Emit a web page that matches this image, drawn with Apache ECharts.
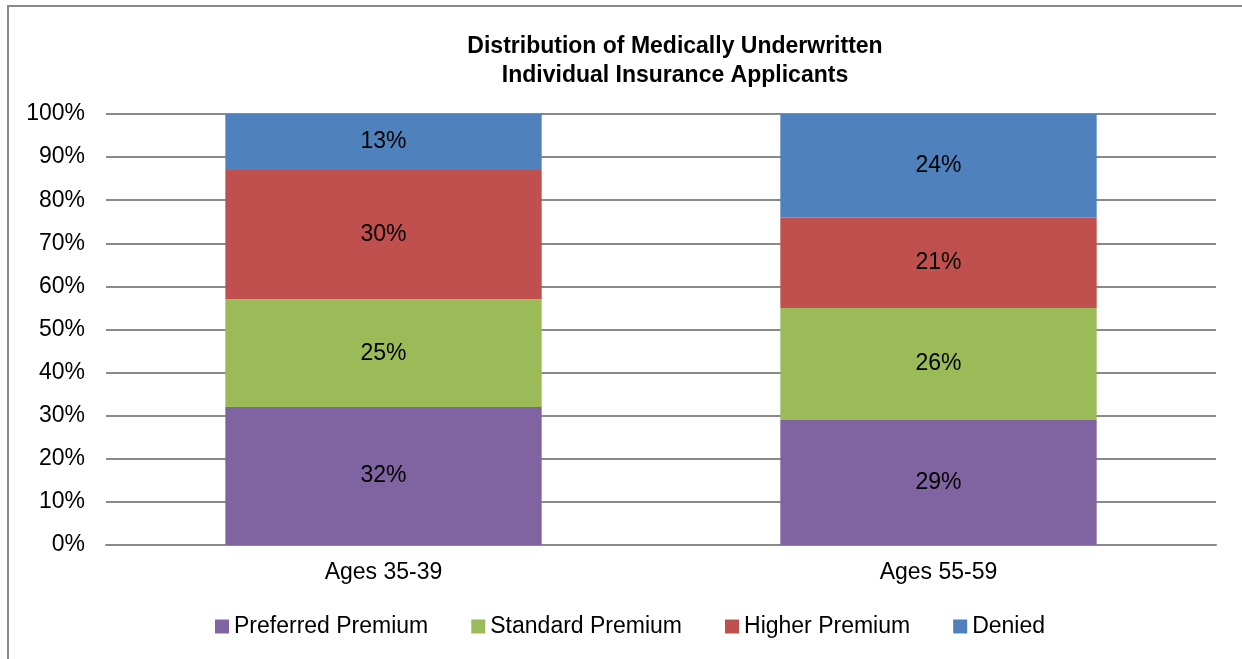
<!DOCTYPE html>
<html><head><meta charset="utf-8">
<script src="https://cdn.jsdelivr.net/npm/echarts@6/dist/echarts.min.js"></script>
<style>html,body{margin:0;padding:0;background:#fff}#c{width:1242px;height:659px}</style>
</head><body><div id="c"></div>
<script>
const categories = ['Ages 35-39', 'Ages 55-59'];
const preferred = [32, 29];
const standard = [25, 26];
const higher = [30, 21];
const denied = [13, 24];
const yTicks = [0, 10, 20, 30, 40, 50, 60, 70, 80, 90, 100];

const font = 'Liberation Sans, Arial, sans-serif';
const chart = echarts.init(document.getElementById('c'), null, {renderer: 'canvas'});
function mk(name, data, color) {
  return {
    name, type: 'bar', stack: 'a', data, barWidth: '57%',
    itemStyle: {color},
    label: {show: true, position: 'inside', formatter: p => p.value + '%', color: '#000', fontSize: 23, fontFamily: font}
  };
}
chart.setOption({
  animation: false,
  textStyle: {fontFamily: font},
  graphic: [{type: 'rect', shape: {x: 8, y: 6, width: 1300, height: 700}, style: {fill: 'none', stroke: '#8a8a8a', lineWidth: 2}, z: -1}],
  title: {
    text: 'Distribution of Medically Underwritten\nIndividual Insurance Applicants',
    left: 670, top: 27, textAlign: 'center',
    textStyle: {fontSize: 23, fontWeight: 'bold', color: '#000', fontFamily: font, lineHeight: 29}
  },
  legend: {
    top: 610, left: 210, itemWidth: 14, itemHeight: 14, itemGap: 43, icon: 'rect',
    textStyle: {fontSize: 23, color: '#000', fontFamily: font},
    data: ['Preferred Premium', 'Standard Premium', 'Higher Premium', 'Denied']
  },
  grid: {left: 106, right: 26, top: 114, bottom: 114},
  xAxis: {
    type: 'category', data: categories,
    axisLine: {lineStyle: {color: '#8a8a8a', width: 2}},
    axisTick: {show: false},
    axisLabel: {fontSize: 23, color: '#000', margin: 16, fontFamily: font}
  },
  yAxis: {
    type: 'value', min: 0, max: 100, interval: 10,
    axisLine: {show: false}, axisTick: {show: false},
    axisLabel: {fontSize: 23, color: '#000', margin: 21, fontFamily: font, formatter: v => yTicks.includes(v) ? v + '%' : ''},
    splitLine: {lineStyle: {color: '#8a8a8a', width: 2}}
  },
  series: [
    mk('Preferred Premium', preferred, '#8064A2'),
    mk('Standard Premium', standard, '#9BBB59'),
    mk('Higher Premium', higher, '#C0504D'),
    mk('Denied', denied, '#4F81BD')
  ]
});
</script></body></html>
